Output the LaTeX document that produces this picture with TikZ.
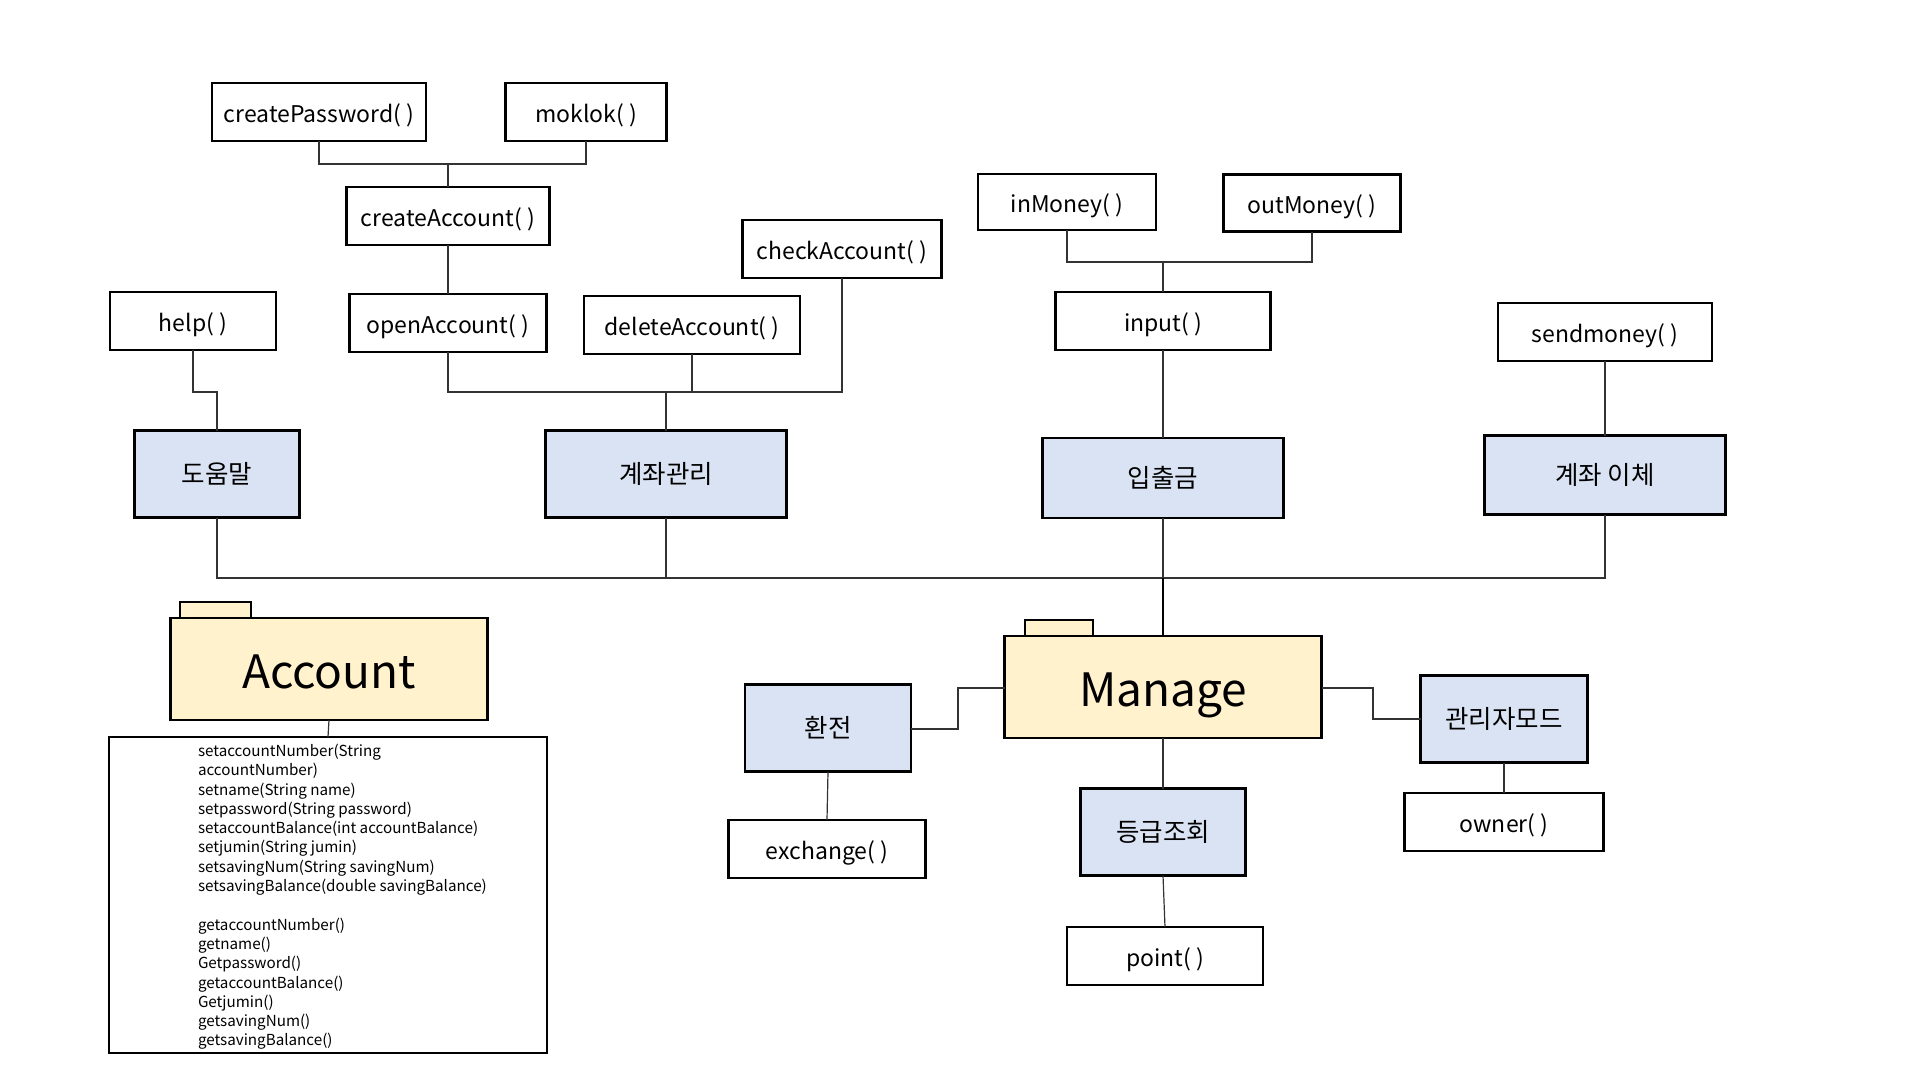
\documentclass[tikz,border=0pt]{standalone}
\usepackage{fontspec}
\setmainfont{Noto Sans CJK KR}
\begin{document}
\begin{tikzpicture}[x=1pt,y=-1pt,
  every node/.style={inner sep=0pt, outer sep=0pt},
  fn/.style={draw=black, line width=2.2pt, fill=white, font=\fontsize{23}{27}\selectfont, text height=23pt, text depth=3pt, minimum height=58pt},
  grp/.style={draw=black, line width=2.2pt, fill=grpblue, font=\fontsize{25.5}{30}\selectfont, minimum height=87pt},
  pkg/.style={draw=black, line width=2.2pt, fill=pkgyellow, font=\fontsize{46}{50}\selectfont, text height=49pt, text depth=10pt, minimum width=317pt, minimum height=102pt},
  tab/.style={draw=black, line width=2.2pt, fill=pkgyellow, anchor=south west, minimum height=16pt},
  wire/.style={line width=1.2pt, draw=black!80},
  bus/.style={line width=1.4pt, draw=black!80}
]
\definecolor{grpblue}{HTML}{DAE3F3}
\definecolor{pkgyellow}{HTML}{FFF2CC}
\useasboundingbox[fill=white] (0,0) rectangle (1920,1080);

% ---- method boxes, top row ----
\node[fn, minimum width=214pt] (cp)  at (319,112) {createPassword( )};
\node[fn, minimum width=161pt] (mk)  at (586,112) {moklok( )};
\node[fn, minimum width=203pt] (ca)  at (448,216) {createAccount( )};
\node[fn, minimum width=197pt] (oa)  at (448,323) {openAccount( )};
\node[fn, minimum width=166pt] (hp)  at (193,321) {help( )};
\node[fn, minimum width=216pt] (da)  at (692,325) {deleteAccount( )};
\node[fn, minimum width=199pt] (ck)  at (842,249) {checkAccount( )};
\node[fn, minimum width=178pt, minimum height=56pt] (im) at (1067,202) {inMoney( )};
\node[fn, minimum width=177pt, minimum height=57pt] (om) at (1312,203) {outMoney( )};
\node[fn, minimum width=215pt] (ip)  at (1163,321) {input( )};
\node[fn, minimum width=214pt] (sm)  at (1605,332) {sendmoney( )};

% ---- feature groups ----
\node[grp, minimum width=165pt] (g1) at (217,474) {도움말};
\node[grp, minimum width=241pt] (g2) at (666,474) {계좌관리};
\node[grp, minimum width=241pt, minimum height=80pt] (g3) at (1163,478) {입출금};
\node[grp, minimum width=241pt, minimum height=79pt] (g4) at (1605,475) {계좌 이체};

% ---- packages ----
\node[tab, minimum width=71pt] (at) at (180,618) {};
\node[pkg] (acc) at (329,669) {Account};
\node[tab, minimum width=68pt] (mt) at (1025,636) {};
\node[pkg] (man) at (1163,687) {Manage};

% ---- Account member list ----
\node[draw=black, line width=2.2pt, fill=white, minimum width=438pt, minimum height=316pt] (lst) at (328,895) {};
\node[anchor=north west, align=left, font=\fontsize{15.2}{19.3}\selectfont] (lsttxt) at (198,744) {%
setaccountNumber(String\\
accountNumber)\\
setname(String name)\\
setpassword(String password)\\
setaccountBalance(int accountBalance)\\
setjumin(String jumin)\\
setsavingNum(String savingNum)\\
setsavingBalance(double savingBalance)\\[19.3pt]
getaccountNumber()\\
getname()\\
Getpassword()\\
getaccountBalance()\\
Getjumin()\\
getsavingNum()\\
getsavingBalance()};

% ---- Manage sub groups ----
\node[grp, minimum width=166pt] (g5) at (828,728) {환전};
\node[fn, minimum width=197pt] (ex) at (827,849) {exchange( )};
\node[grp, minimum width=165pt] (g6) at (1163,832) {등급조회};
\node[fn, minimum width=196pt] (pt) at (1165,956) {point( )};
\node[grp, minimum width=167pt] (g7) at (1504,719) {관리자모드};
\node[fn, minimum width=199pt] (ow) at (1504,822) {owner( )};

% ---- junction points ----
\coordinate (j1) at (448,164);
\coordinate (j2) at (217,392);
\coordinate (j3) at (666,392);
\coordinate (j4) at (1163,262);
\coordinate (b1) at (217,578);
\coordinate (b2) at (666,578);
\coordinate (b3) at (1163,578);
\coordinate (b4) at (1605,578);
\coordinate (k1) at (958,729);
\coordinate (k2) at (1373,688);

% ---- connectors ----
\draw[wire] (cp.south) |- (j1) -| (mk.south);
\draw[wire] (j1) -- (ca.north);
\draw[wire] (ca.south) -- (oa.north);
\draw[wire] (hp.south) |- (j2) -- (g1.north);
\draw[wire] (oa.south) |- (j3);
\draw[wire] (da.south) -- (da.south |- j3);
\draw[wire] (ck.south) |- (j3);
\draw[wire] (j3) -- (g2.north);
\draw[wire] (im.south) |- (j4) -| (om.south);
\draw[wire] (j4) -- (ip.north);
\draw[wire] (ip.south) -- (g3.north);
\draw[wire] (sm.south) -- (g4.north);
\draw[bus] (g1.south) -- (b1) -- (b4) -- (g4.south);
\draw[bus] (g2.south) -- (b2);
\draw[bus] (g3.south) -- (b3);
\draw[line width=2pt] (b3) -- (man.north);
\draw[wire] (acc.south) -- (lst.north);
\draw[wire] (g5.east |- k1) -- (k1) |- (man.west |- k2);
\draw[wire] (man.east |- k2) -- (k2) |- (g7.west);
\draw[wire] (g5.south) -- (ex.north);
\draw[wire] (man.south) -- (g6.north);
\draw[wire] (g6.south) -- (pt.north);
\draw[wire] (g7.south) -- (ow.north);
\end{tikzpicture}
\end{document}
